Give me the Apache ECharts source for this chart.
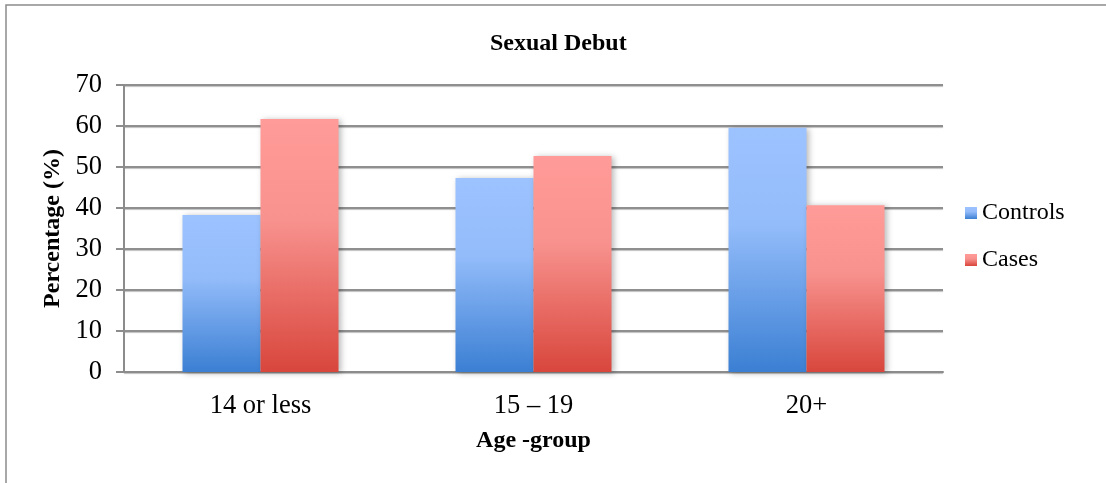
<!DOCTYPE html>
<html>
<head>
<meta charset="utf-8">
<script src="https://cdn.jsdelivr.net/npm/echarts@6/dist/echarts.min.js"></script>
<style>
  html, body { margin: 0; padding: 0; background: #ffffff; }
  #chart { width: 1106px; height: 483px; }
</style>
</head>
<body>
<div id="chart"></div>
<script>
// Age at sexual debut, percentage of controls and cases per age group
const categories = ['14 or less', '15 \u2013 19', '20+'];
const controls = [38.3, 47.3, 59.6];
const cases = [61.7, 52.7, 40.7];
const yTicks = { min: 0, max: 70, interval: 10 };

const FONT = "'Liberation Serif', 'Times New Roman', serif";

function vGrad(stops) {
  return new echarts.graphic.LinearGradient(0, 0, 0, 1,
    stops.map(([offset, color]) => ({ offset, color })));
}

const blueFill = vGrad([[0, '#9dc3ff'], [0.4, '#93bcfa'], [1, '#3b7fd3']]);
const redFill = vGrad([[0, '#ff9b98'], [0.4, '#f8928e'], [1, '#d8463c']]);

const barShadow = {
  shadowBlur: 6,
  shadowColor: 'rgba(0,0,0,0.28)',
  shadowOffsetX: 2,
  shadowOffsetY: 1
};

const chart = echarts.init(document.getElementById('chart'), null, { renderer: 'canvas' });

chart.setOption({
  animation: false,
  backgroundColor: '#ffffff',
  textStyle: { fontFamily: FONT, color: '#000' },
  graphic: [{
    type: 'rect',
    shape: { x: 6, y: 5, width: 1200, height: 600 },
    style: { fill: 'none', stroke: '#8c8c8c', lineWidth: 1.5 },
    silent: true
  }],
  title: {
    text: 'Sexual Debut',
    left: 485,
    top: 27,
    textStyle: { fontFamily: FONT, fontSize: 24, fontWeight: 'bold', color: '#000' }
  },
  legend: {
    orient: 'vertical',
    left: 960,
    top: 196,
    icon: 'rect',
    itemWidth: 12,
    itemHeight: 12,
    itemGap: 23,
    data: ['Controls', 'Cases'],
    textStyle: { fontFamily: FONT, fontSize: 24, color: '#000' }
  },
  grid: { left: 124, right: 163, top: 85, bottom: 111 },
  xAxis: {
    type: 'category',
    data: categories,
    name: 'Age -group',
    nameLocation: 'middle',
    nameGap: 57,
    nameTextStyle: { fontFamily: FONT, fontSize: 24, fontWeight: 'bold', color: '#000' },
    axisLine: { lineStyle: { color: '#8c8c8c', width: 2 } },
    axisTick: { show: false },
    axisLabel: { fontFamily: FONT, fontSize: 26.5, color: '#000', margin: 21 }
  },
  yAxis: {
    type: 'value',
    min: yTicks.min,
    max: yTicks.max,
    interval: yTicks.interval,
    name: 'Percentage (%)',
    nameLocation: 'middle',
    nameGap: 55,
    nameTextStyle: { fontFamily: FONT, fontSize: 24, fontWeight: 'bold', color: '#000' },
    axisLine: { show: true, lineStyle: { color: '#8c8c8c', width: 2 } },
    axisTick: { show: true, length: 8, lineStyle: { color: '#8c8c8c', width: 2 } },
    axisLabel: { fontFamily: FONT, fontSize: 26.5, color: '#000', margin: 22 },
    splitLine: {
      lineStyle: {
        color: '#8f8f8f',
        width: 2,
        shadowColor: 'rgba(0,0,0,0.25)',
        shadowOffsetY: 1,
        shadowBlur: 1
      }
    }
  },
  series: [
    {
      name: 'Controls',
      type: 'bar',
      data: controls,
      barWidth: 78,
      barGap: '0%',
      itemStyle: Object.assign({ color: blueFill }, barShadow)
    },
    {
      name: 'Cases',
      type: 'bar',
      data: cases,
      barWidth: 78,
      barGap: '0%',
      itemStyle: Object.assign({ color: redFill }, barShadow)
    }
  ]
});
</script>
</body>
</html>
